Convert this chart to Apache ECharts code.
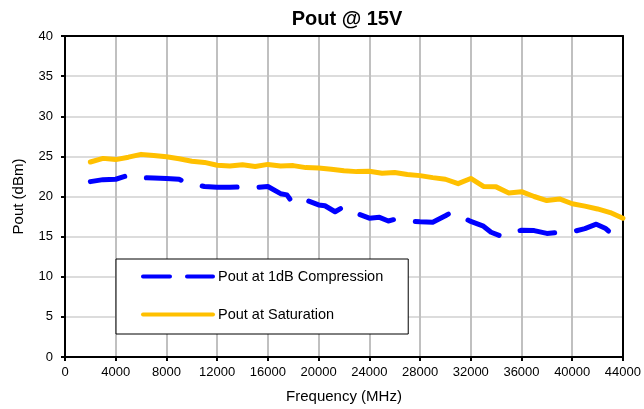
<!DOCTYPE html>
<html>
<head>
<meta charset="utf-8">
<script src="https://cdn.jsdelivr.net/npm/echarts@6/dist/echarts.min.js"></script>
<style>html,body{margin:0;padding:0;background:#fff;}#c{width:644px;height:409px;}</style>
</head>
<body>
<div id="c"></div>
<script>
var titleText = 'Pout @ 15V';
var xName = 'Frequency (MHz)';
var yName = 'Pout (dBm)';
var seriesNames = ['Pout at 1dB Compression', 'Pout at Saturation'];

var freqComp = [2000,3000,4000,5000,6000,7000,8000,9000,9500,11000,12000,13000,14000,15000,16000,17000,17500,18000,19000,20000,20500,21300,22000,23000,24000,24800,25500,26000,27000,28000,29000,30000,30500,32000,33000,33600,34400,35000,36000,37000,38000,39000,40000,41000,41900,42600,43200];
var pComp = [21.85,22.1,22.15,22.65,22.35,22.3,22.25,22.15,21.75,21.25,21.15,21.15,21.2,21.1,21.25,20.35,20.2,19.1,19.55,18.95,18.85,18.1,18.75,17.9,17.3,17.4,16.95,17.15,16.95,16.85,16.8,17.6,18.05,16.9,16.3,15.55,15.05,15.4,15.8,15.75,15.4,15.55,15.6,16.0,16.55,16.05,15.25];

var freqSat = [2000,3000,4000,5000,6000,7000,8000,9000,10000,11000,12000,13000,14000,15000,16000,17000,18000,19000,20000,21000,22000,23000,24000,25000,26000,27000,28000,29000,30000,31000,32000,33000,34000,35000,36000,37000,38000,39000,40000,41000,42000,43000,44000];
var pSat = [24.3,24.75,24.6,24.9,25.25,25.1,24.95,24.7,24.4,24.25,23.9,23.8,23.95,23.75,24.0,23.8,23.85,23.6,23.55,23.4,23.2,23.1,23.15,22.9,23.0,22.75,22.6,22.35,22.15,21.6,22.25,21.25,21.2,20.45,20.6,20.0,19.5,19.7,19.1,18.8,18.45,18.0,17.3];

var xMin = 0, xMax = 44000, xStep = 4000;
var yMin = 0, yMax = 40, yStep = 5;

function pairs(xs, ys){ return xs.map(function(x,i){ return [x, ys[i]]; }); }

var chart = echarts.init(document.getElementById('c'), null, {renderer:'canvas'});
var font = 'Liberation Sans, Arial, sans-serif';
var frameAxis = {axisLine:{show:true, onZero:false, lineStyle:{color:'#000', width:2}}, axisTick:{show:false}, axisLabel:{show:false}, splitLine:{show:false}};
chart.setOption({
  animation:false,
  backgroundColor:'#fff',
  textStyle:{fontFamily:font},
  title:{text:titleText, left:342, top:4, textAlign:'center',
    textStyle:{fontSize:20, fontWeight:'bold', color:'#000', fontFamily:font}},
  grid:{left:65, right:21, top:36, bottom:50},
  legend:{
    orient:'vertical', left:116, top:259,
    padding:[10,25,12,25], itemWidth:70, itemHeight:16, itemGap:23,
    borderColor:'#000', borderWidth:1, backgroundColor:'#fff',
    textStyle:{fontSize:14.5, color:'#000', fontFamily:font},
    itemStyle:{color:'rgba(0,0,0,0)', borderWidth:0, opacity:0},
    data:[
      {name:seriesNames[0], lineStyle:{type:[27,17], width:4, cap:'round'}},
      {name:seriesNames[1], lineStyle:{width:4, cap:'round'}}
    ]
  },
  xAxis:[{type:'value', min:xMin, max:xMax, interval:xStep,
    name:xName, nameLocation:'middle', nameGap:32,
    nameTextStyle:{fontSize:15, color:'#000', fontFamily:font},
    axisLine:{onZero:false, lineStyle:{color:'#000', width:2}},
    axisTick:{show:true, length:4, lineStyle:{color:'#000', width:2}},
    axisLabel:{fontSize:13, color:'#000', margin:9, fontFamily:font, formatter:function(v){return String(v);}},
    splitLine:{show:true, lineStyle:{color:'#c0c0c0', width:2}}
  }, Object.assign({type:'value', min:xMin, max:xMax, position:'top'}, frameAxis)],
  yAxis:[{type:'value', min:yMin, max:yMax, interval:yStep,
    name:yName, nameLocation:'middle', nameGap:39,
    nameTextStyle:{fontSize:15, color:'#000', fontFamily:font},
    axisLine:{show:true, onZero:false, lineStyle:{color:'#000', width:2}},
    axisTick:{show:true, length:4, lineStyle:{color:'#000', width:2}},
    axisLabel:{fontSize:13, color:'#000', margin:12, fontFamily:font},
    splitLine:{show:true, lineStyle:{color:'#d0d0d0', width:1.5}}
  }, Object.assign({type:'value', min:yMin, max:yMax, position:'right'}, frameAxis)],
  series:[
    {name:seriesNames[0], type:'line', data:pairs(freqComp,pComp), showSymbol:false, symbol:'none',
      color:'#0000ff', lineStyle:{color:'#0000ff', width:5, type:[35,22], cap:'round', join:'round'}, z:3},
    {name:seriesNames[1], type:'line', data:pairs(freqSat,pSat), showSymbol:false, symbol:'none',
      color:'#ffc000', lineStyle:{color:'#ffc000', width:5, cap:'round', join:'round'}, z:2}
  ]
});
</script>
</body>
</html>
